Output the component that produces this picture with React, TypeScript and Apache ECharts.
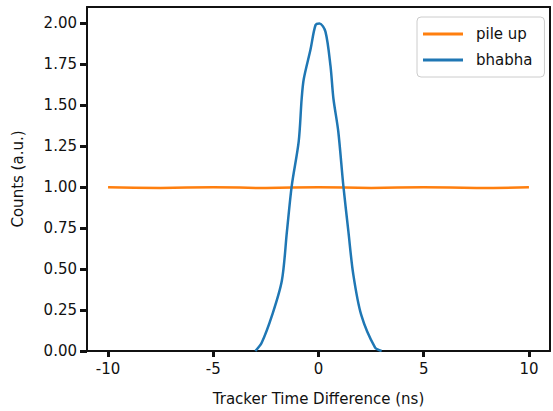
import React, { useEffect, useRef } from "react";
import * as echarts from "echarts";

const bhabhaX = [-3.0, -2.7, -2.2, -1.74, -1.5, -1.27, -0.94, -0.8, -0.7, -0.38, -0.14, 0.05, 0.33, 0.57, 0.71, 0.94, 1.18, 1.42, 1.65, 2.03, 2.69, 3.0];
const bhabhaY = [0.0, 0.05, 0.22, 0.43, 0.73, 1.01, 1.28, 1.54, 1.66, 1.84, 1.99, 2.0, 1.95, 1.74, 1.54, 1.34, 1.01, 0.73, 0.47, 0.22, 0.02, 0.0];
const pileX = [-10, -7.5, -5, -2.5, 0, 2.5, 5, 7.5, 10];
const pileY = [1.0, 0.995, 1.0, 0.995, 1.0, 0.995, 1.0, 0.995, 1.0];
const xTicks = [-10, -5, 0, 5, 10];
const yTicks = [0, 0.25, 0.5, 0.75, 1, 1.25, 1.5, 1.75, 2];

const FONT = "DejaVu Sans";
const frameAxis = {
  axisLine: { show: true, onZero: false, lineStyle: { color: "#111", width: 2 } },
  axisTick: { show: false },
  axisLabel: { show: false },
  splitLine: { show: false },
};

export default function App() {
  const ref = useRef<HTMLDivElement>(null);
  useEffect(() => {
    const chart = echarts.init(ref.current!, null, { renderer: "svg" });
    chart.setOption({
      animation: false,
      textStyle: { fontFamily: FONT },
      grid: { left: 87, right: 3, top: 7, bottom: 58 },
      legend: {
        left: 417,
        top: 17,
        orient: "vertical",
        icon: "rect",
        itemWidth: 40,
        itemHeight: 3,
        itemGap: 8,
        padding: [8, 12, 8, 6],
        borderColor: "#ccc",
        borderWidth: 1,
        borderRadius: 4,
        textStyle: { fontFamily: FONT, fontSize: 15, color: "#111", padding: [0, 0, 0, 8], lineHeight: 18 },
        data: ["pile up", "bhabha"],
      },
      xAxis: [
        {
          type: "value",
          min: -11,
          max: 11,
          position: "bottom",
          name: "Tracker Time Difference (ns)",
          nameLocation: "middle",
          nameGap: 40,
          nameTextStyle: { fontSize: 15, color: "#111", fontFamily: FONT },
          axisLine: { show: true, onZero: false, lineStyle: { color: "#111", width: 2 } },
          axisTick: { show: true, length: 6, lineStyle: { width: 3, color: "#111" }, customValues: xTicks },
          axisLabel: { fontSize: 15, color: "#111", margin: 10, customValues: xTicks },
          splitLine: { show: false },
        },
        { type: "value", min: -11, max: 11, position: "top", ...frameAxis },
      ],
      yAxis: [
        {
          type: "value",
          min: 0,
          max: 2.1,
          position: "left",
          name: "Counts (a.u.)",
          nameLocation: "middle",
          nameGap: 62,
          nameTextStyle: { fontSize: 15, color: "#111", fontFamily: FONT },
          axisLine: { show: true, onZero: false, lineStyle: { color: "#111", width: 2 } },
          axisTick: { show: true, length: 7, lineStyle: { width: 3, color: "#111" }, customValues: yTicks },
          axisLabel: {
            fontSize: 15, color: "#111", margin: 10,
            customValues: yTicks,
            formatter: (v: number) => v.toFixed(2),
          },
          splitLine: { show: false },
        },
        { type: "value", min: 0, max: 2.1, position: "right", ...frameAxis },
      ],
      series: [
        {
          name: "pile up",
          type: "line",
          symbol: "none",
          smooth: true,
          lineStyle: { color: "#ff7f0e", width: 2.5 },
          itemStyle: { color: "#ff7f0e" },
          data: pileX.map((x, i) => [x, pileY[i]]),
        },
        {
          name: "bhabha",
          type: "line",
          symbol: "none",
          smooth: 0.3,
          lineStyle: { color: "#1f77b4", width: 2.5 },
          itemStyle: { color: "#1f77b4" },
          data: bhabhaX.map((x, i) => [x, bhabhaY[i]]),
        },
      ],
    });
    return () => chart.dispose();
  }, []);
  return <div ref={ref} style={{ width: 553, height: 411, position: "absolute", left: 0, top: 0, background: "#fff" }} />;
}
